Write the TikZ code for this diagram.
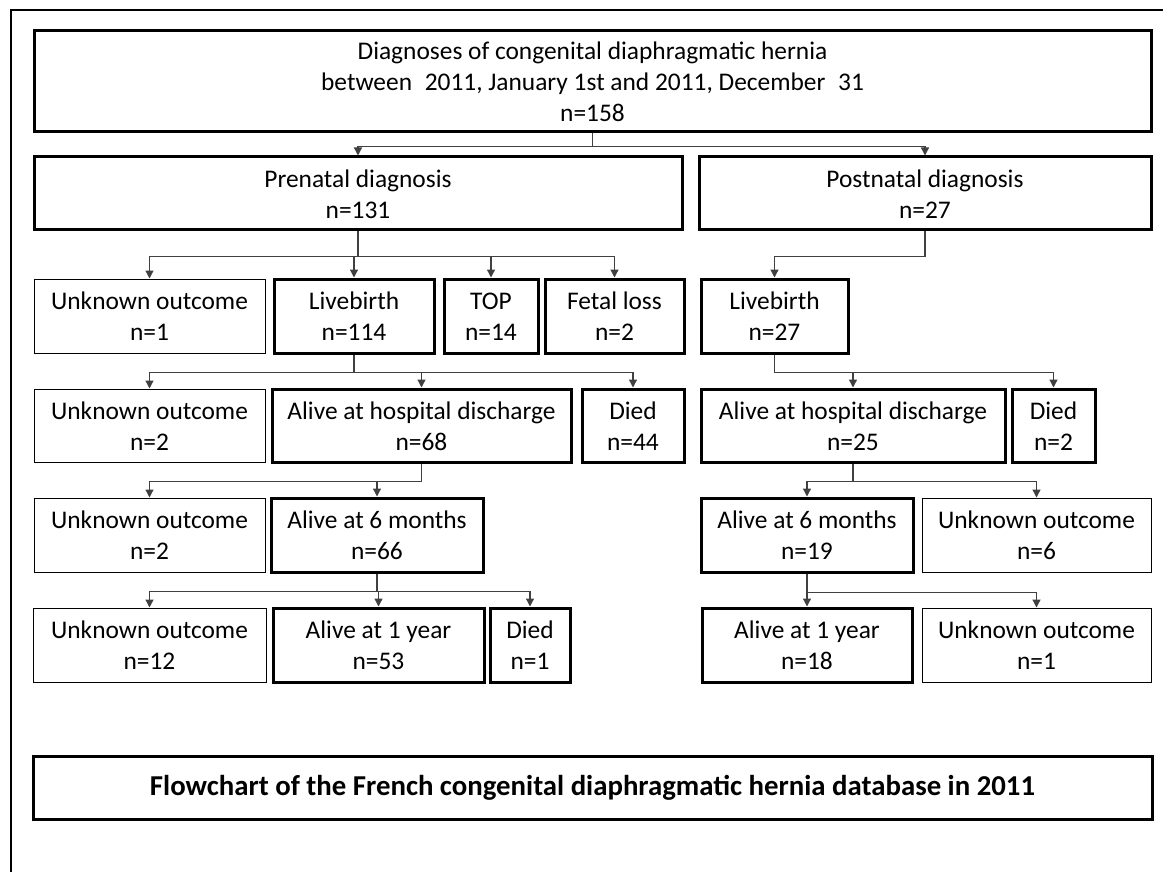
\documentclass[tikz,border=0pt]{standalone}
\usepackage{fontspec}
\setmainfont{Carlito}
\usetikzlibrary{arrows.meta}
\newcommand\bx[7]{\node[#6, minimum width={#4-#2}, minimum height={#5-#3}] (#1) at ({(#2+#4)/2},{(#3+#5)/2}) {\rule{0pt}{21.7pt}#7\rule[-3.5pt]{0pt}{0pt}};}
\begin{document}
\begin{tikzpicture}[x=1pt,y=-1pt,
  thickbox/.style={draw, line width=3pt, inner sep=0pt, align=center, font=\fontsize{25.4}{31}\selectfont},
  thinbox/.style={thickbox, line width=1pt},
  conn/.style={draw=black!75, line width=1.3pt},
  arr/.style={conn, -{Triangle[length=8pt,width=8pt]}}]
\useasboundingbox (0,0) rectangle (1163,872);
\draw[line width=1.5pt] (11,872) -- (11,10) -- (1163,10);
% boxes
\bx{top}{34}{31}{1151}{132}{thickbox}{Diagnoses of congenital diaphragmatic hernia\\between\enspace2011, January 1st and 2011, December\enspace31\\n=158}
\bx{pre}{34}{157}{682}{230}{thickbox}{Prenatal diagnosis\\n=131}
\bx{post}{699}{157}{1151}{230}{thickbox}{Postnatal diagnosis\\n=27}
% row 3
\bx{uA}{34}{279}{265}{353}{thinbox}{Unknown outcome\\n=1}
\bx{lbA}{274}{279}{434}{353}{thickbox}{Livebirth\\n=114}
\bx{topA}{444}{279}{538}{353}{thickbox}{TOP\\n=14}
\bx{flA}{545}{279}{684}{353}{thickbox}{Fetal loss\\n=2}
\bx{lbB}{701}{279}{848}{353}{thickbox}{Livebirth\\n=27}
% row 4
\bx{uB}{34}{389}{265}{462}{thinbox}{Unknown outcome\\n=2}
\bx{ahA}{272}{389}{571}{462}{thickbox}{Alive at hospital discharge\\n=68}
\bx{dA}{582}{389}{684}{462}{thickbox}{Died\\n=44}
\bx{ahB}{701}{389}{1005}{462}{thickbox}{Alive at hospital discharge\\n=25}
\bx{dB}{1012}{389}{1095}{462}{thickbox}{Died\\n=2}
% row 5
\bx{uC}{34}{498}{265}{572}{thinbox}{Unknown outcome\\n=2}
\bx{smA}{271}{498}{483}{572}{thickbox}{Alive at 6 months\\n=66}
\bx{smB}{701}{498}{913}{572}{thickbox}{Alive at 6 months\\n=19}
\bx{uD}{922}{498}{1151}{572}{thinbox}{Unknown outcome\\n=6}
% row 6
\bx{uE}{33}{608}{266}{682}{thinbox}{Unknown outcome\\n=12}
\bx{oyA}{273}{608}{484}{682}{thickbox}{Alive at 1 year\\n=53}
\bx{dC}{490}{608}{570}{682}{thickbox}{Died\\n=1}
\bx{oyB}{702}{608}{912}{682}{thickbox}{Alive at 1 year\\n=18}
\bx{uF}{922}{608}{1151}{682}{thinbox}{Unknown outcome\\n=1}
% footer
\bx{foot}{33}{756}{1152}{819}{thickbox, font=\fontsize{28.8}{34}\selectfont\bfseries}{Flowchart of the French congenital diaphragmatic hernia database in 2011}
% connectors
\draw[conn] (top.south) -- ++(0,13) coordinate (j0);
\draw[arr] (j0) -| (pre.north);
\draw[arr] (j0) -| (post.north);
\draw[conn] (pre.south) -- ++(0,25) coordinate (j1);
\foreach \n in {uA,lbA,topA,flA} \draw[arr] (j1) -| (\n.north);
\draw[conn] (post.south) -- ++(0,25) coordinate (j2);
\draw[arr] (j2) -| (lbB.north);
\draw[conn] (lbA.south) -- ++(0,18) coordinate (j3);
\foreach \n in {uB,ahA,dA} \draw[arr] (j3) -| (\n.north);
\draw[conn] (lbB.south) -- ++(0,18) coordinate (j4);
\foreach \n in {ahB,dB} \draw[arr] (j4) -| (\n.north);
\draw[conn] (ahA.south) -- ++(0,18) coordinate (j5);
\foreach \n in {uC,smA} \draw[arr] (j5) -| (\n.north);
\draw[conn] (ahB.south) -- ++(0,18) coordinate (j6);
\foreach \n in {smB,uD} \draw[arr] (j6) -| (\n.north);
\draw[conn] (smA.south) -- ++(0,18) coordinate (j7);
\foreach \n in {uE,oyA,dC} \draw[arr] (j7) -| (\n.north);
\draw[conn] (smB.south) -- ++(0,19) coordinate (j8);
\foreach \n in {oyB,uF} \draw[arr] (j8) -| (\n.north);
\end{tikzpicture}
\end{document}
